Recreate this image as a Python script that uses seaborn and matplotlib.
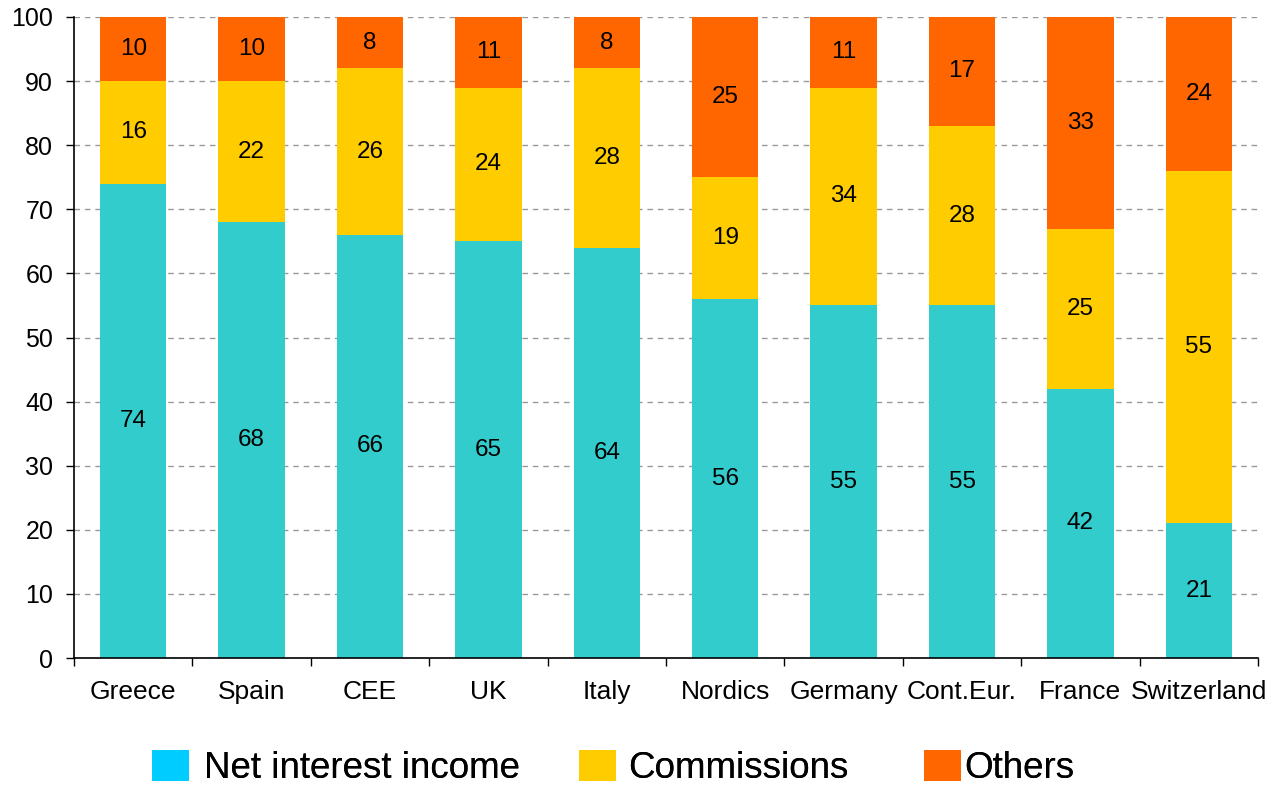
import matplotlib
matplotlib.use("Agg")
import matplotlib.pyplot as plt
from matplotlib.patches import Patch
from matplotlib.ticker import FixedLocator
import numpy as np
import pandas as pd
import seaborn as sns

regions = ["Greece", "Spain", "CEE", "UK", "Italy", "Nordics", "Germany",
           "Cont.Eur.", "France", "Switzerland"]
net_interest = [74, 68, 66, 65, 64, 56, 55, 55, 42, 21]
commissions = [16, 22, 26, 24, 28, 19, 34, 28, 25, 55]
others = [10, 10, 8, 11, 8, 25, 11, 17, 33, 24]

series_names = ["Net interest income", "Commissions", "Others"]
bar_colors = ["#33CCCC", "#FFCC00", "#FF6600"]
legend_colors = ["#00CCFF", "#FFCC00", "#FF6600"]

df = pd.DataFrame({"region": regions, "nii": net_interest,
                   "com": commissions, "oth": others})

sns.set_theme(style="white")
plt.rcParams["font.family"] = ["Liberation Sans", "DejaVu Sans"]
plt.rcParams["text.color"] = "black"
plt.rcParams["xtick.color"] = "black"
plt.rcParams["ytick.color"] = "black"

fig = plt.figure(figsize=(12.81, 7.85), dpi=100)
ax = fig.add_axes([74 / 1281, 1 - 658 / 785, (1258 - 74) / 1281, (658 - 17) / 785])

bottom = np.zeros(len(regions))
for col, color in zip(["nii", "com", "oth"], bar_colors):
    sns.barplot(data=df, x="region", y=col, color=color, width=0.56,
                bottom=bottom, saturation=1, ax=ax, linewidth=0)
    bottom = bottom + df[col].to_numpy()

for cont, vals in zip(ax.containers, [net_interest, commissions, others]):
    ax.bar_label(cont, labels=[str(v) for v in vals], label_type="center",
                 fontsize=17.5, color="black")

ax.set_xlim(-0.5, len(regions) - 0.5)
ax.set_ylim(0, 100)
ax.set_yticks(np.arange(0, 101, 10))
ax.set_xlabel("")
ax.set_ylabel("")

# category boundaries carry the tick marks, labels sit at the centres
ax.xaxis.set_minor_locator(FixedLocator(np.arange(-0.5, len(regions), 1.0)))
ax.tick_params(axis="x", which="major", length=0, pad=16, labelsize=19,
               labelcolor="black")
ax.tick_params(axis="x", which="minor", length=6, width=1, color="black",
               direction="out", bottom=True)
ax.tick_params(axis="y", which="major", length=6, width=1, color="black",
               direction="out", left=True, pad=9, labelsize=18,
               labelcolor="black")

for y in range(10, 101, 10):
    ax.axhline(y, color="#999999", linewidth=1, linestyle=(0, (4, 3.5)), zorder=0)
ax.set_axisbelow(True)

for side in ["top", "right"]:
    ax.spines[side].set_visible(False)
for side in ["left", "bottom"]:
    ax.spines[side].set_color("black")
    ax.spines[side].set_linewidth(1.2)

# legend entries placed individually along the bottom
legend_x = [152, 579, 924]
text_pads = [0.40, 0.34, 0.10]
for name, color, x, pad in zip(series_names, legend_colors, legend_x, text_pads):
    leg = fig.legend(handles=[Patch(facecolor=color, edgecolor="none", label=name)],
                     loc="center left", bbox_to_anchor=(x / 1281, 17 / 785),
                     frameon=False, fontsize=26.5, handlelength=1.0,
                     handleheight=0.9, handletextpad=pad, borderpad=0,
                     borderaxespad=0, labelcolor="black")
    fig.add_artist(leg)

fig.savefig("out.png", dpi=100)
